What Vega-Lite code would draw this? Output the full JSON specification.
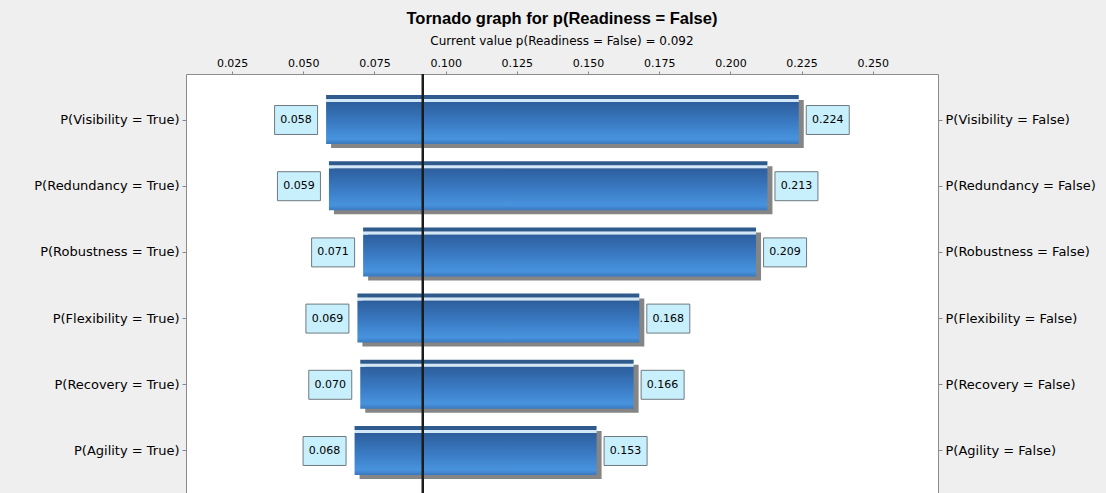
{
  "$schema": "https://vega.github.io/schema/vega-lite/v6.json",
  "autosize": "none",
  "padding": {"left": 186, "top": 74, "right": 168, "bottom": 0},
  "width": 752,
  "height": 423,
  "background": "#efefef",
  "title": {
    "text": "Tornado graph for p(Readiness = False)",
    "subtitle": "Current value p(Readiness = False) = 0.092",
    "anchor": "middle",
    "font": "Liberation Sans",
    "fontSize": 16.5,
    "fontWeight": "bold",
    "color": "#000000",
    "subtitleFont": "DejaVu Sans",
    "subtitleFontSize": 12,
    "subtitleColor": "#000000",
    "subtitlePadding": 9,
    "offset": 10
  },
  "data": {
    "values": [
      {"factor": "Visibility", "low": 0.058, "high": 0.224},
      {"factor": "Redundancy", "low": 0.059, "high": 0.213},
      {"factor": "Robustness", "low": 0.071, "high": 0.209},
      {"factor": "Flexibility", "low": 0.069, "high": 0.168},
      {"factor": "Recovery", "low": 0.070, "high": 0.166},
      {"factor": "Agility", "low": 0.068, "high": 0.153}
    ]
  },
  "resolve": {"axis": {"y": "independent"}},
  "layer": [
    {
      "mark": {"type": "bar", "height": 48, "yOffset": 4, "xOffset": 5, "x2Offset": 5, "color": "#858585", "cornerRadius": 0},
      "encoding": {
        "x": {"field": "low", "type": "quantitative", "title": null,
          "scale": {"domain": [0.0088, 0.2729], "nice": false, "zero": false},
          "axis": {"orient": "top", "values": [0.025, 0.05, 0.075, 0.1, 0.125, 0.15, 0.175, 0.2, 0.225, 0.25], "format": ".3f", "grid": false, "domain": false, "tickSize": 3, "tickColor": "#888888", "labelPadding": 3, "labelFont": "DejaVu Sans", "labelFontSize": 11, "labelColor": "#000000"}},
        "x2": {"field": "high"},
        "y": {"field": "factor", "type": "nominal", "sort": null, "title": null,
          "scale": {"paddingInner": 0, "paddingOuter": 0.195},
          "axis": {"orient": "left", "labelExpr": "'P(' + datum.value + ' = True)'", "domain": false, "tickSize": 4, "tickColor": "#888888", "labelPadding": 3, "labelFont": "DejaVu Sans", "labelFontSize": 13, "labelColor": "#000000"}}
      }
    },
    {
      "mark": {"type": "bar", "height": 42, "yOffset": 3,
        "color": {"gradient": "linear", "x1": 0, "y1": 0, "x2": 0, "y2": 1,
          "stops": [
            {"offset": 0, "color": "#2d5e9c"},
            {"offset": 0.5, "color": "#3a7bc4"},
            {"offset": 0.88, "color": "#4893de"},
            {"offset": 1, "color": "#3a78bd"}
          ]}},
      "encoding": {
        "x": {"field": "low", "type": "quantitative", "title": null},
        "x2": {"field": "high"},
        "y": {"field": "factor", "type": "nominal", "sort": null, "title": null,
          "axis": {"orient": "right", "labelExpr": "'P(' + datum.value + ' = False)'", "domain": false, "tickSize": 4, "tickColor": "#888888", "labelPadding": 3, "labelFont": "DejaVu Sans", "labelFontSize": 13, "labelColor": "#000000"}}
      }
    },
    {
      "mark": {"type": "bar", "height": 3, "yOffset": -19.5, "color": "#d2e7f7"},
      "encoding": {
        "x": {"field": "low", "type": "quantitative", "title": null},
        "x2": {"field": "high"},
        "y": {"field": "factor", "type": "nominal", "sort": null, "title": null, "axis": null}
      }
    },
    {
      "mark": {"type": "bar", "height": 4, "yOffset": -23, "color": "#2f5b8c"},
      "encoding": {
        "x": {"field": "low", "type": "quantitative", "title": null},
        "x2": {"field": "high"},
        "y": {"field": "factor", "type": "nominal", "sort": null, "title": null, "axis": null}
      }
    },
    {
      "mark": {"type": "rule", "color": "#1c1c1c", "strokeWidth": 2},
      "encoding": {
        "x": {"datum": 0.092, "type": "quantitative", "title": null}
      }
    },
    {
      "mark": {"type": "point", "shape": "M-1,-0.674H1V0.674H-1Z", "size": 1849, "filled": true, "fill": "#c8effc", "stroke": "#6f7a80", "strokeWidth": 1, "opacity": 1, "xOffset": -30},
      "encoding": {
        "x": {"field": "low", "type": "quantitative", "title": null},
        "y": {"field": "factor", "type": "nominal", "sort": null, "title": null, "axis": null}
      }
    },
    {
      "mark": {"type": "text", "dx": -30, "font": "DejaVu Sans", "fontSize": 11, "color": "#000000", "align": "center", "baseline": "middle"},
      "encoding": {
        "x": {"field": "low", "type": "quantitative", "title": null},
        "y": {"field": "factor", "type": "nominal", "sort": null, "title": null, "axis": null},
        "text": {"field": "low", "type": "quantitative", "format": ".3f"}
      }
    },
    {
      "mark": {"type": "point", "shape": "M-1,-0.674H1V0.674H-1Z", "size": 1849, "filled": true, "fill": "#c8effc", "stroke": "#6f7a80", "strokeWidth": 1, "opacity": 1, "xOffset": 29},
      "encoding": {
        "x": {"field": "high", "type": "quantitative", "title": null},
        "y": {"field": "factor", "type": "nominal", "sort": null, "title": null, "axis": null}
      }
    },
    {
      "mark": {"type": "text", "dx": 29, "font": "DejaVu Sans", "fontSize": 11, "color": "#000000", "align": "center", "baseline": "middle"},
      "encoding": {
        "x": {"field": "high", "type": "quantitative", "title": null},
        "y": {"field": "factor", "type": "nominal", "sort": null, "title": null, "axis": null},
        "text": {"field": "high", "type": "quantitative", "format": ".3f"}
      }
    }
  ],
  "config": {
    "view": {"fill": "#ffffff", "stroke": "#8c8c8c", "strokeWidth": 1}
  }
}
